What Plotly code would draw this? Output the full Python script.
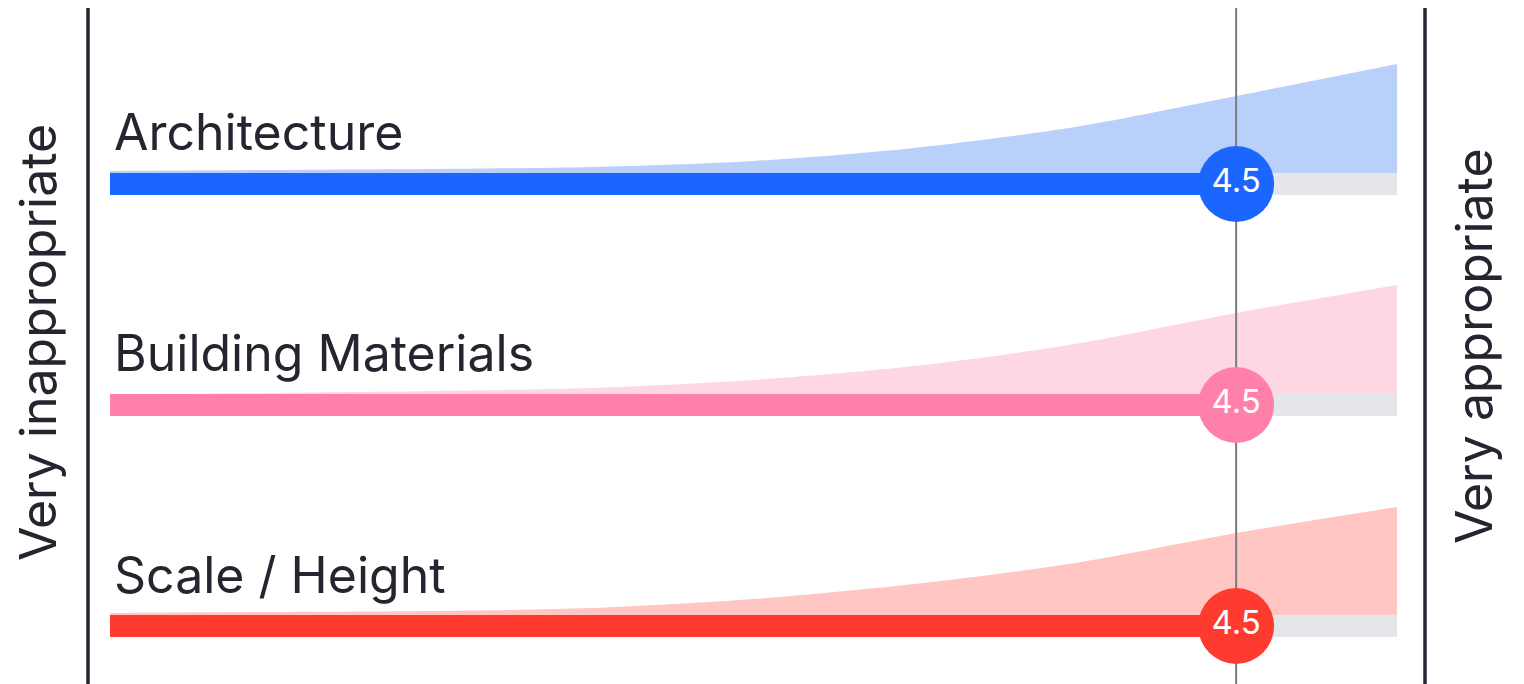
import plotly.graph_objects as go

# ---------------- data ----------------
categories = ["Architecture", "Building Materials", "Scale / Height"]
mean_scores = [4.5, 4.5, 4.5]
score_labels = ["4.5", "4.5", "4.5"]
scale_points = [1.0, 1.5, 2.0, 2.5, 3.0, 3.5, 4.0, 4.5, 5.0]
dist_architecture = [2, 3, 4, 6, 12, 25, 46, 77, 109]
dist_materials = [0, 1, 3, 6, 14, 28, 50, 81, 109]
dist_scale = [2, 3, 4, 7, 16, 31, 52, 82, 108]
distributions = [dist_architecture, dist_materials, dist_scale]
left_label = "Very inappropriate"
right_label = "Very appropriate"

# ---------------- styles ----------------
OFF = 8                      # page body margin of the html page
W, H = 1524 - OFF, 684 - OFF
SCALE_MIN, SCALE_MAX = 1.0, 5.0
PX_START, PX_END = 110 - OFF, 1397 - OFF
ppu = (PX_END - PX_START) / (SCALE_MAX - SCALE_MIN)
x_lo = SCALE_MIN - PX_START / ppu
x_hi = SCALE_MIN + (W - PX_START) / ppu

bar_colors = ["#1a66ff", "#ff80a8", "#ff3b30"]
area_colors = ["#b9d0fa", "#ffd7e3", "#ffc6c3"]
track_color = "#e4e6e9"
text_color = "#25252f"
row_base = [173 - OFF, 394 - OFF, 615 - OFF]   # top edge of bars
bar_h = 22
label_y = [132 - OFF, 353 - OFF, 575 - OFF]
FONT = "Inter, Lato, 'Noto Sans', sans-serif"
LABEL_SIZE = 50

fig = go.Figure()
shapes = []
annotations = []

for i, cat in enumerate(categories):
    base = row_base[i]
    fig.add_trace(go.Scatter(x=scale_points, y=[base] * len(scale_points),
                             mode="lines", line=dict(width=0, color=area_colors[i]),
                             hoverinfo="skip", showlegend=False))
    fig.add_trace(go.Scatter(x=scale_points, y=[base - d for d in distributions[i]],
                             mode="lines", line=dict(width=0, color=area_colors[i], shape="spline", smoothing=0.8),
                             fill="tonexty", fillcolor=area_colors[i],
                             hoverinfo="skip", showlegend=False))
    shapes.append(dict(type="rect", xref="x", yref="y", x0=mean_scores[i], x1=SCALE_MAX,
                       y0=base, y1=base + bar_h, fillcolor=track_color, line=dict(width=0), layer="below"))
    shapes.append(dict(type="rect", xref="x", yref="y", x0=SCALE_MIN, x1=mean_scores[i],
                       y0=base, y1=base + bar_h, fillcolor=bar_colors[i], line=dict(width=0), layer="below"))
    annotations.append(dict(x=(112 - OFF) / W, y=label_y[i], xref="paper", yref="y", text=cat,
                            showarrow=False, xanchor="left", yanchor="middle",
                            font=dict(family=FONT, size=LABEL_SIZE, color=text_color)))

# mean reference line
fig.add_trace(go.Scatter(x=[mean_scores[0], mean_scores[0]], y=[0, H], mode="lines",
                         line=dict(color="#7b7b7f", width=2), hoverinfo="skip", showlegend=False))

# mean circles
for i in range(len(categories)):
    fig.add_trace(go.Scatter(x=[mean_scores[i]], y=[row_base[i] + bar_h / 2], mode="markers+text",
                             marker=dict(size=76, color=bar_colors[i], line=dict(width=0)),
                             text=[score_labels[i]], textposition="middle center",
                             textfont=dict(family=FONT, size=33, color="white"),
                             hoverinfo="skip", showlegend=False))

# frame lines
for xp in (88, 1425):
    shapes.append(dict(type="line", xref="paper", yref="y", x0=(xp - OFF) / W, x1=(xp - OFF) / W,
                       y0=0, y1=H, line=dict(color=text_color, width=3.5)))

annotations.append(dict(x=(38 - OFF) / W, y=343 - OFF, xref="paper", yref="y", text=left_label, textangle=-90,
                        showarrow=False, xanchor="center", yanchor="middle",
                        font=dict(family=FONT, size=LABEL_SIZE, color=text_color)))
annotations.append(dict(x=(1474 - OFF) / W, y=346 - OFF, xref="paper", yref="y", text=right_label, textangle=-90,
                        showarrow=False, xanchor="center", yanchor="middle",
                        font=dict(family=FONT, size=LABEL_SIZE, color=text_color)))

fig.update_layout(
    width=W, height=H,
    margin=dict(l=0, r=0, t=0, b=0),
    paper_bgcolor="white", plot_bgcolor="white",
    xaxis=dict(range=[x_lo, x_hi], visible=False, fixedrange=True),
    yaxis=dict(range=[H, 0], visible=False, fixedrange=True),
    shapes=shapes, annotations=annotations,
    showlegend=False,
)

fig.write_html("out.html")
